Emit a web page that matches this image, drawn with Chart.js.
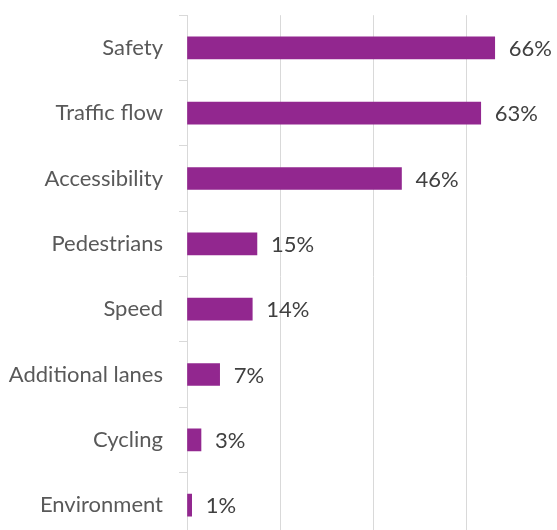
<!DOCTYPE html>
<html><head><meta charset="utf-8">
<script src="https://cdn.jsdelivr.net/npm/chart.js@4/dist/chart.umd.min.js"></script>
<style>
html,body{margin:0;padding:0;overflow:hidden;background:#fff;width:557px;height:530px;}
#wrap{position:absolute;left:0;top:-14px;width:580px;height:581px;}
</style></head><body>
<div id="wrap"><canvas id="c" width="580" height="581"></canvas></div>
<script>
const categories = ["Safety","Traffic flow","Accessibility","Pedestrians","Speed","Additional lanes","Cycling","Environment"];
const values = [66,63,46,15,14,7,3,1];
const valueLabels = ["66%","63%","46%","15%","14%","7%","3%","1%"];
const xTicks = [0,20,40,60,80];

const labelPlugin = {
  id:'valueLabels',
  afterDatasetsDraw(chart){
    const ctx = chart.ctx;
    const meta = chart.getDatasetMeta(0);
    ctx.save();
    ctx.font = '22px Lato';
    ctx.fillStyle = '#404040';
    ctx.textAlign = 'left';
    ctx.textBaseline = 'middle';
    meta.data.forEach((bar,i)=>{
      ctx.fillText(valueLabels[i], bar.x + 14, bar.y + 1);
    });
    ctx.restore();
  }
};

new Chart(document.getElementById('c'), {
  type:'bar',
  data:{labels:categories, datasets:[{data:values, backgroundColor:'#92278F', borderWidth:0, barThickness:22}]},
  options:{
    indexAxis:'y',
    responsive:false,
    animation:false,
    devicePixelRatio:1,
    layout:{padding:{top:15,left:0,right:20,bottom:0}},
    plugins:{legend:{display:false},tooltip:{enabled:false}},
    scales:{
      x:{
        min:0,max:80,
        afterBuildTicks(s){ s.ticks = xTicks.map(v=>({value:v})); },
        ticks:{display:false},
        grid:{color:'#d9d9d9',lineWidth:1,drawTicks:false},
        border:{display:false},
        afterFit(s){ s.height = 0; }
      },
      y:{
        afterFit(s){ s.width = 187; },
        ticks:{color:'#595959',font:{family:'Lato',size:22},padding:16},
        grid:{drawOnChartArea:false,color:'#d9d9d9',tickLength:8,offset:true},
        border:{display:true,color:'#d9d9d9',width:1}
      }
    }
  },
  plugins:[labelPlugin]
});
</script>
</body></html>
